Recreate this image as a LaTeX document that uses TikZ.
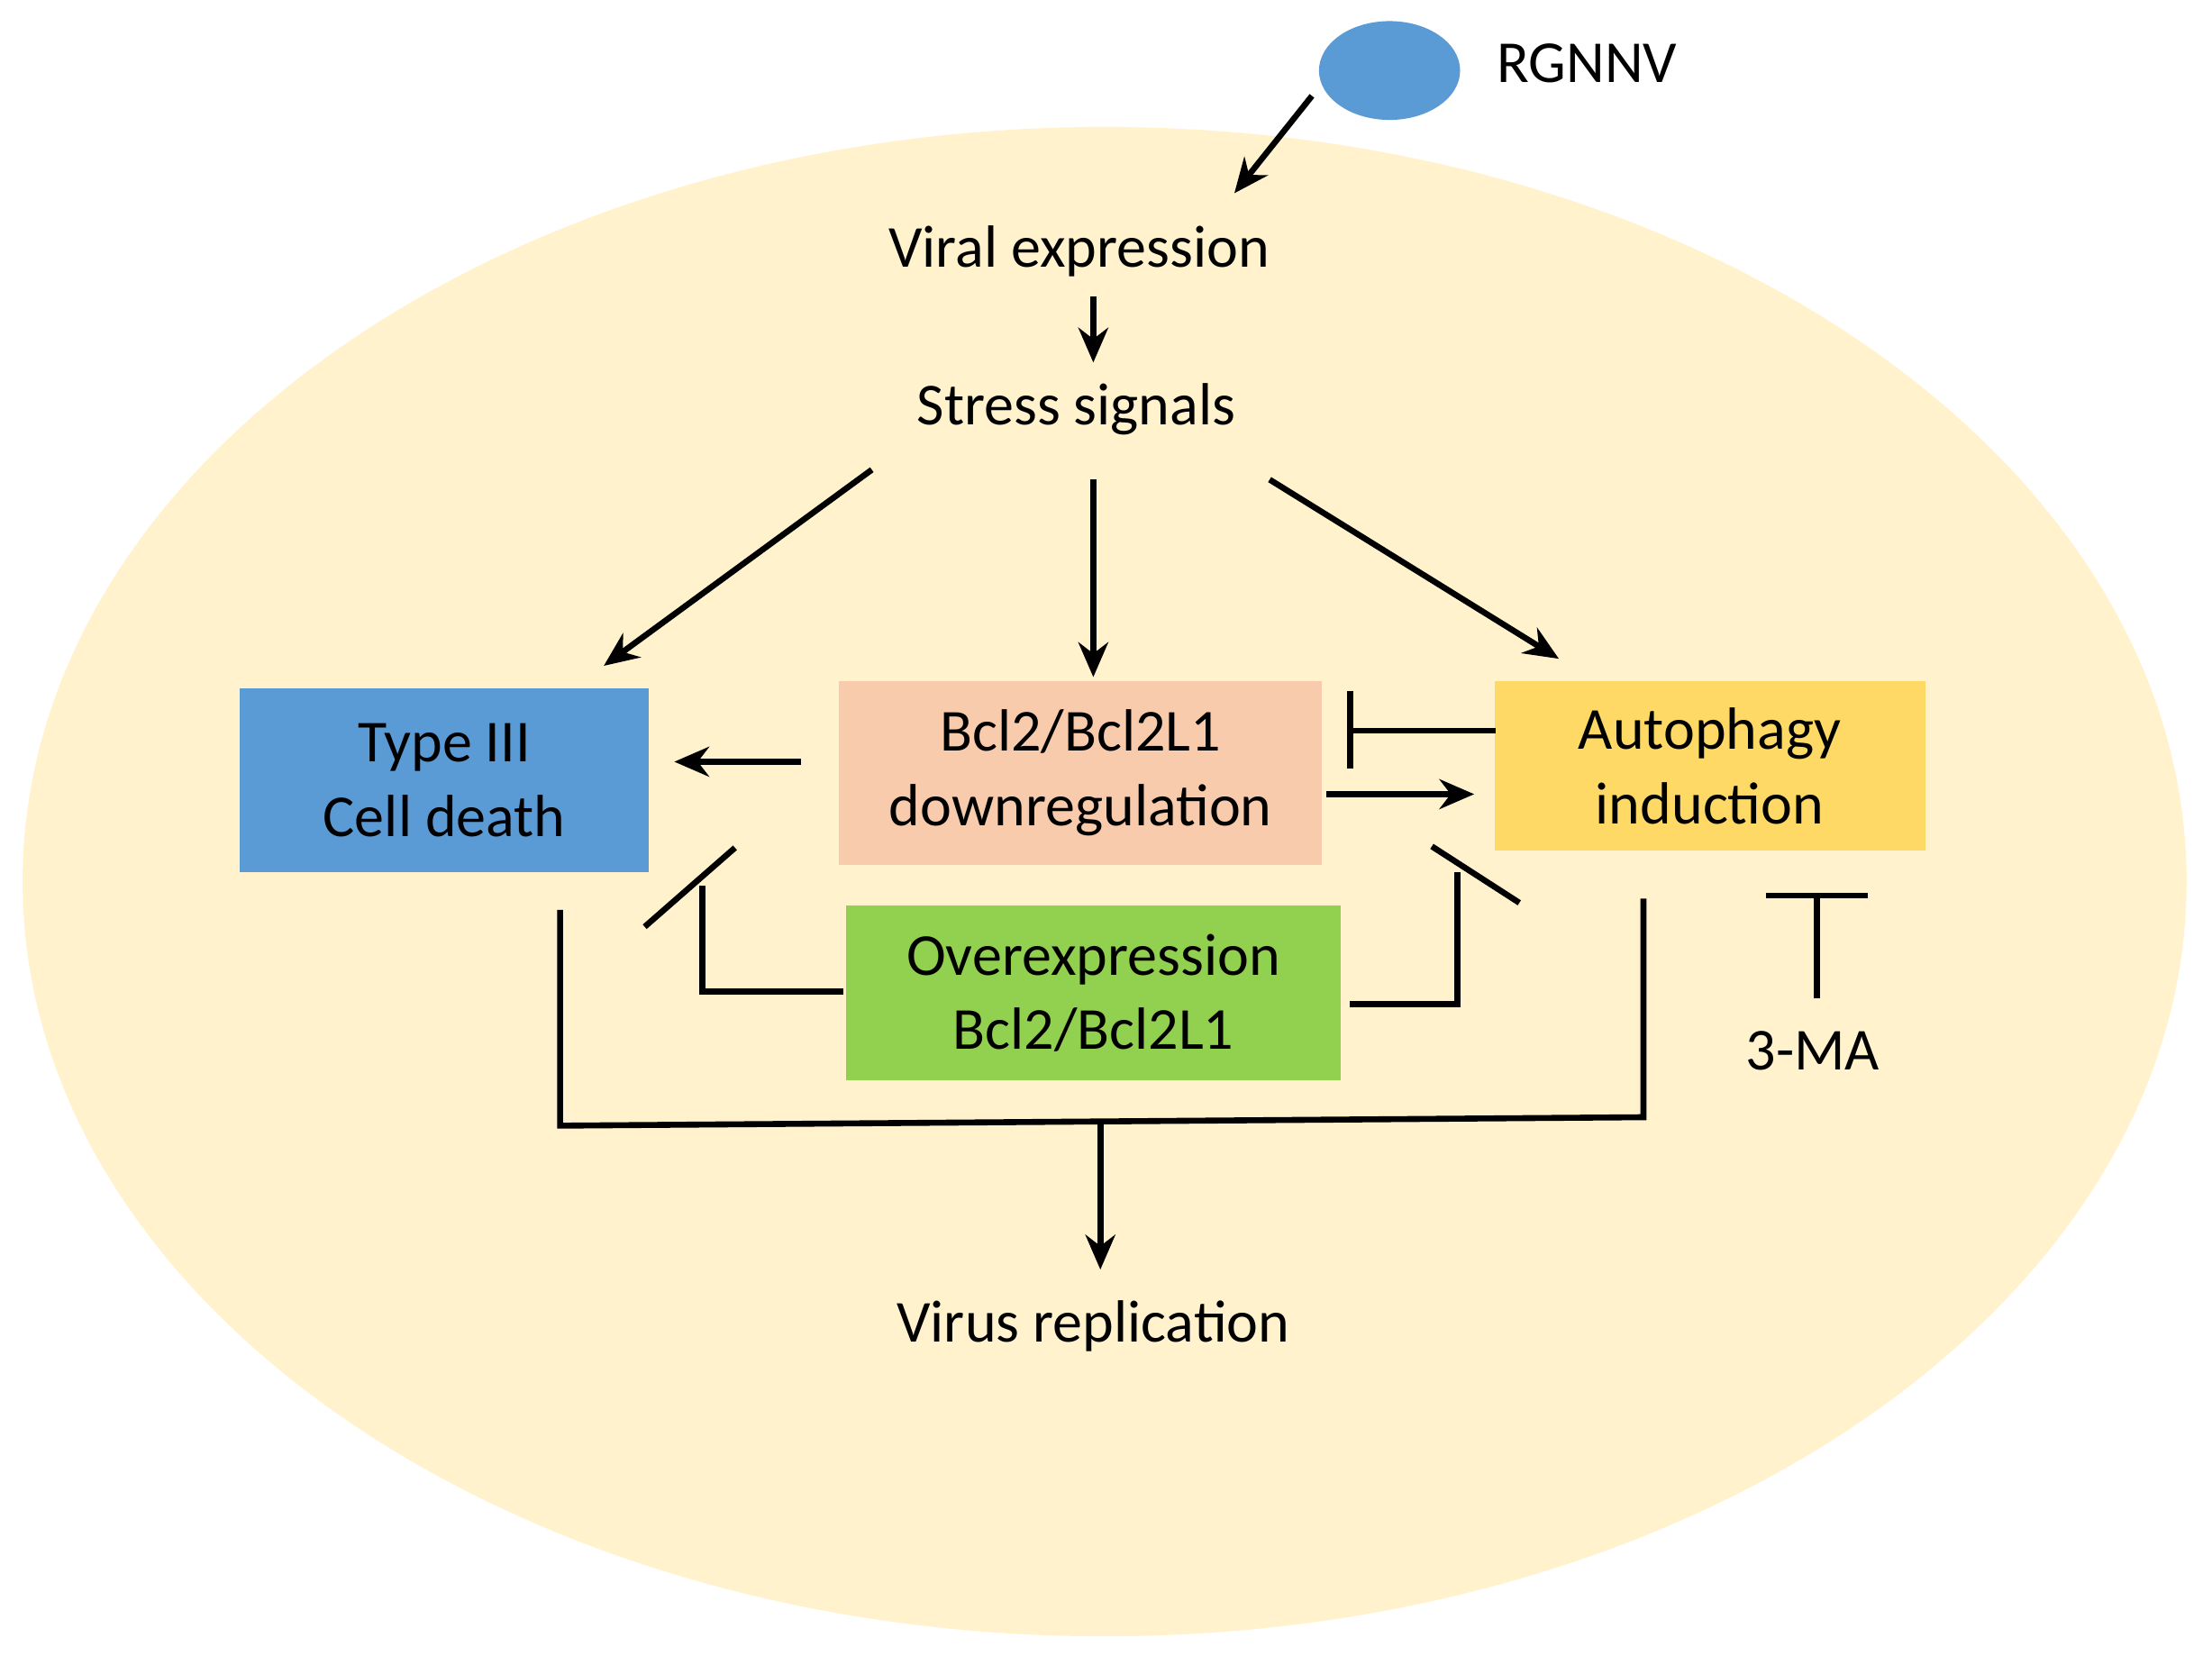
\documentclass[tikz,border=0pt]{standalone}
\usepackage{fontspec}
\setmainfont{Carlito}
\usetikzlibrary{arrows.meta,shapes.geometric}
\definecolor{cellbg}{HTML}{FFF2CC}
\definecolor{vblue}{HTML}{5B9BD5}
\definecolor{bpink}{HTML}{F8CBAD}
\definecolor{ayel}{HTML}{FFD966}
\definecolor{ogreen}{HTML}{92D050}
\begin{document}
\begin{tikzpicture}[x=0.01cm,y=-0.01cm,
  txt/.style={font=\fontsize{12}{15}\selectfont,align=center,inner sep=0pt},
  ln/.style={line width=1.2pt},
  arr/.style={ln,-{Stealth[length=7pt,width=6pt]}}]
\useasboundingbox (0,0) rectangle (1568,1180);
\fill[cellbg] (783,625) ellipse [x radius=767, y radius=-535];
\node[fill=vblue,ellipse,minimum width=1cm,minimum height=0.7cm,inner sep=0pt] (v) at (985,50) {};
\node[txt] (rg) at (1125,45) {RGNNV};
\node[txt] (ve) at (765,178) {Viral expression};
\node[txt] (ss) at (763,290) {Stress signals};
\node[txt,fill=vblue,minimum width=2.9cm,minimum height=1.3cm] (t3) at (315,553) {Type III\\Cell death};
\node[txt,fill=bpink,minimum width=3.42cm,minimum height=1.3cm] (bd) at (766,548) {Bcl2/Bcl2L1\\downregulation};
\node[txt,fill=ayel,minimum width=3.05cm,minimum height=1.2cm] (au) at (1212,543) {Autophagy\\induction};
\node[txt,fill=ogreen,minimum width=3.5cm,minimum height=1.24cm] (oe) at (775,704) {Overexpression\\Bcl2/Bcl2L1};
\node[txt] (ma) at (1285,745) {3-MA};
\node[txt] (vr) at (775,940) {Virus replication};
\coordinate (a1) at (930,68); \coordinate (a2) at (875,137);
\draw[arr] (a1) -- (a2);
\draw[arr] (775,210) -- (775,257);
\draw[arr] (618,333) -- (428,472);
\draw[arr] (775,340) -- (775,480);
\draw[arr] (900,340) -- (1105,467);
\draw[arr] (568,540) -- (478,540);
\draw[ln] (1060,518) -- (957,518);
\draw[ln] (957,490) -- (957,545);
\draw[arr] (940,563) -- (1045,563);
\draw[ln] (598,703) -- (498,703) -- (498,628);
\draw[ln] (457,657) -- (521,601);
\draw[ln] (957,712) -- (1033,712) -- (1033,618);
\draw[ln] (1015,600) -- (1077,640);
\draw[ln] (1288,708) -- (1288,635);
\draw[ln] (1252,635) -- (1324,635);
\draw[ln] (397,645) -- (397,798) -- (1165,792) -- (1165,637);
\draw[arr] (780,795) -- (780,900);
\end{tikzpicture}
\end{document}
